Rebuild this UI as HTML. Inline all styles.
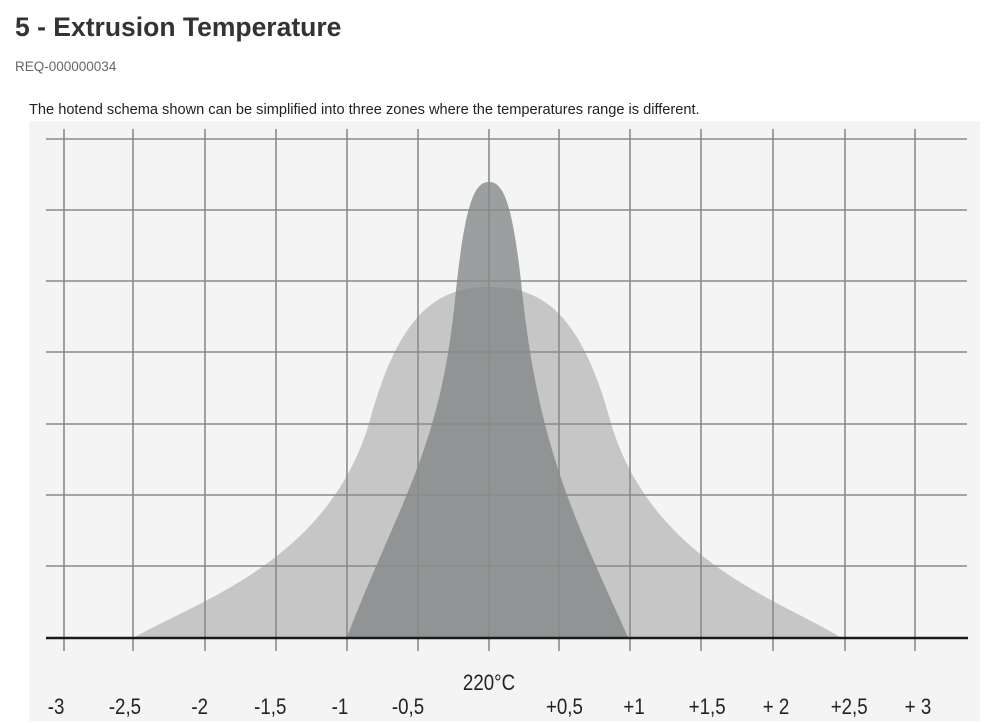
<!DOCTYPE html>
<html><head><meta charset="utf-8"><style>
body{margin:0;background:#fff;width:999px;height:723px;overflow:hidden;font-family:"Liberation Sans",Arial,sans-serif;}
h1{position:absolute;left:15px;top:12px;margin:0;font-size:26.5px;font-weight:bold;color:#333;}
.req{position:absolute;left:15px;top:59px;font-size:13.5px;color:#666;}
.desc{position:absolute;left:29px;top:102px;font-size:14.6px;color:#222;}
svg{position:absolute;left:0;top:0;}
</style></head><body>
<h1>5 - Extrusion Temperature</h1>
<div class="req">REQ-000000034</div>
<div class="desc">The hotend schema shown can be simplified into three zones where the temperatures range is different.</div>
<svg width="999" height="723">
<rect x="29" y="121" width="951" height="600" fill="#f4f4f4"/>
<path d="M135,637 C200,600 330,560 370,420 C400,310 440,287 489,287 C540,287 580,310 610,420 C650,560 780,600 840,637 Z" fill="#c6c6c6"/>
<path d="M347,637 C400,500 440,450 455,300 C465,200 475,182 489,182 C503,182 513,200 523,300 C540,450 575,520 628,637 Z" fill="#7f8383" fill-opacity="0.75"/>
<g stroke="#8a8a8a" stroke-width="1.6">
<line x1="46" x2="967" y1="139" y2="139"/><line x1="46" x2="967" y1="210" y2="210"/>
<line x1="46" x2="967" y1="281" y2="281"/><line x1="46" x2="967" y1="352" y2="352"/>
<line x1="46" x2="967" y1="424" y2="424"/><line x1="46" x2="967" y1="495" y2="495"/>
<line x1="46" x2="967" y1="566" y2="566"/>
<line x1="64" x2="64" y1="129" y2="651"/><line x1="133" x2="133" y1="129" y2="651"/>
<line x1="205" x2="205" y1="129" y2="651"/><line x1="276" x2="276" y1="129" y2="651"/>
<line x1="347" x2="347" y1="129" y2="651"/><line x1="418" x2="418" y1="129" y2="651"/>
<line x1="489" x2="489" y1="129" y2="651"/><line x1="559" x2="559" y1="129" y2="651"/>
<line x1="630" x2="630" y1="129" y2="651"/><line x1="701" x2="701" y1="129" y2="651"/>
<line x1="773" x2="773" y1="129" y2="651"/><line x1="845" x2="845" y1="129" y2="651"/>
<line x1="915" x2="915" y1="129" y2="651"/>
</g>
<line x1="46" x2="968" y1="638" y2="638" stroke="#1a1a1a" stroke-width="2.5"/>
<g font-size="22" fill="#222" text-anchor="middle" font-family="'Liberation Sans',sans-serif">
<g transform="translate(489,690) scale(0.85,1)"><text x="0" y="0">220°C</text></g>
<g transform="translate(0,714) scale(0.85,1)">
<text x="66" y="0">-3</text><text x="147" y="0">-2,5</text><text x="235" y="0">-2</text>
<text x="318" y="0">-1,5</text><text x="400" y="0">-1</text><text x="480" y="0">-0,5</text>
<text x="664" y="0">+0,5</text><text x="746" y="0">+1</text><text x="832" y="0">+1,5</text>
<text x="913" y="0">+ 2</text><text x="999" y="0">+2,5</text><text x="1080" y="0">+ 3</text>
</g>
</g>
</svg>
</body></html>
